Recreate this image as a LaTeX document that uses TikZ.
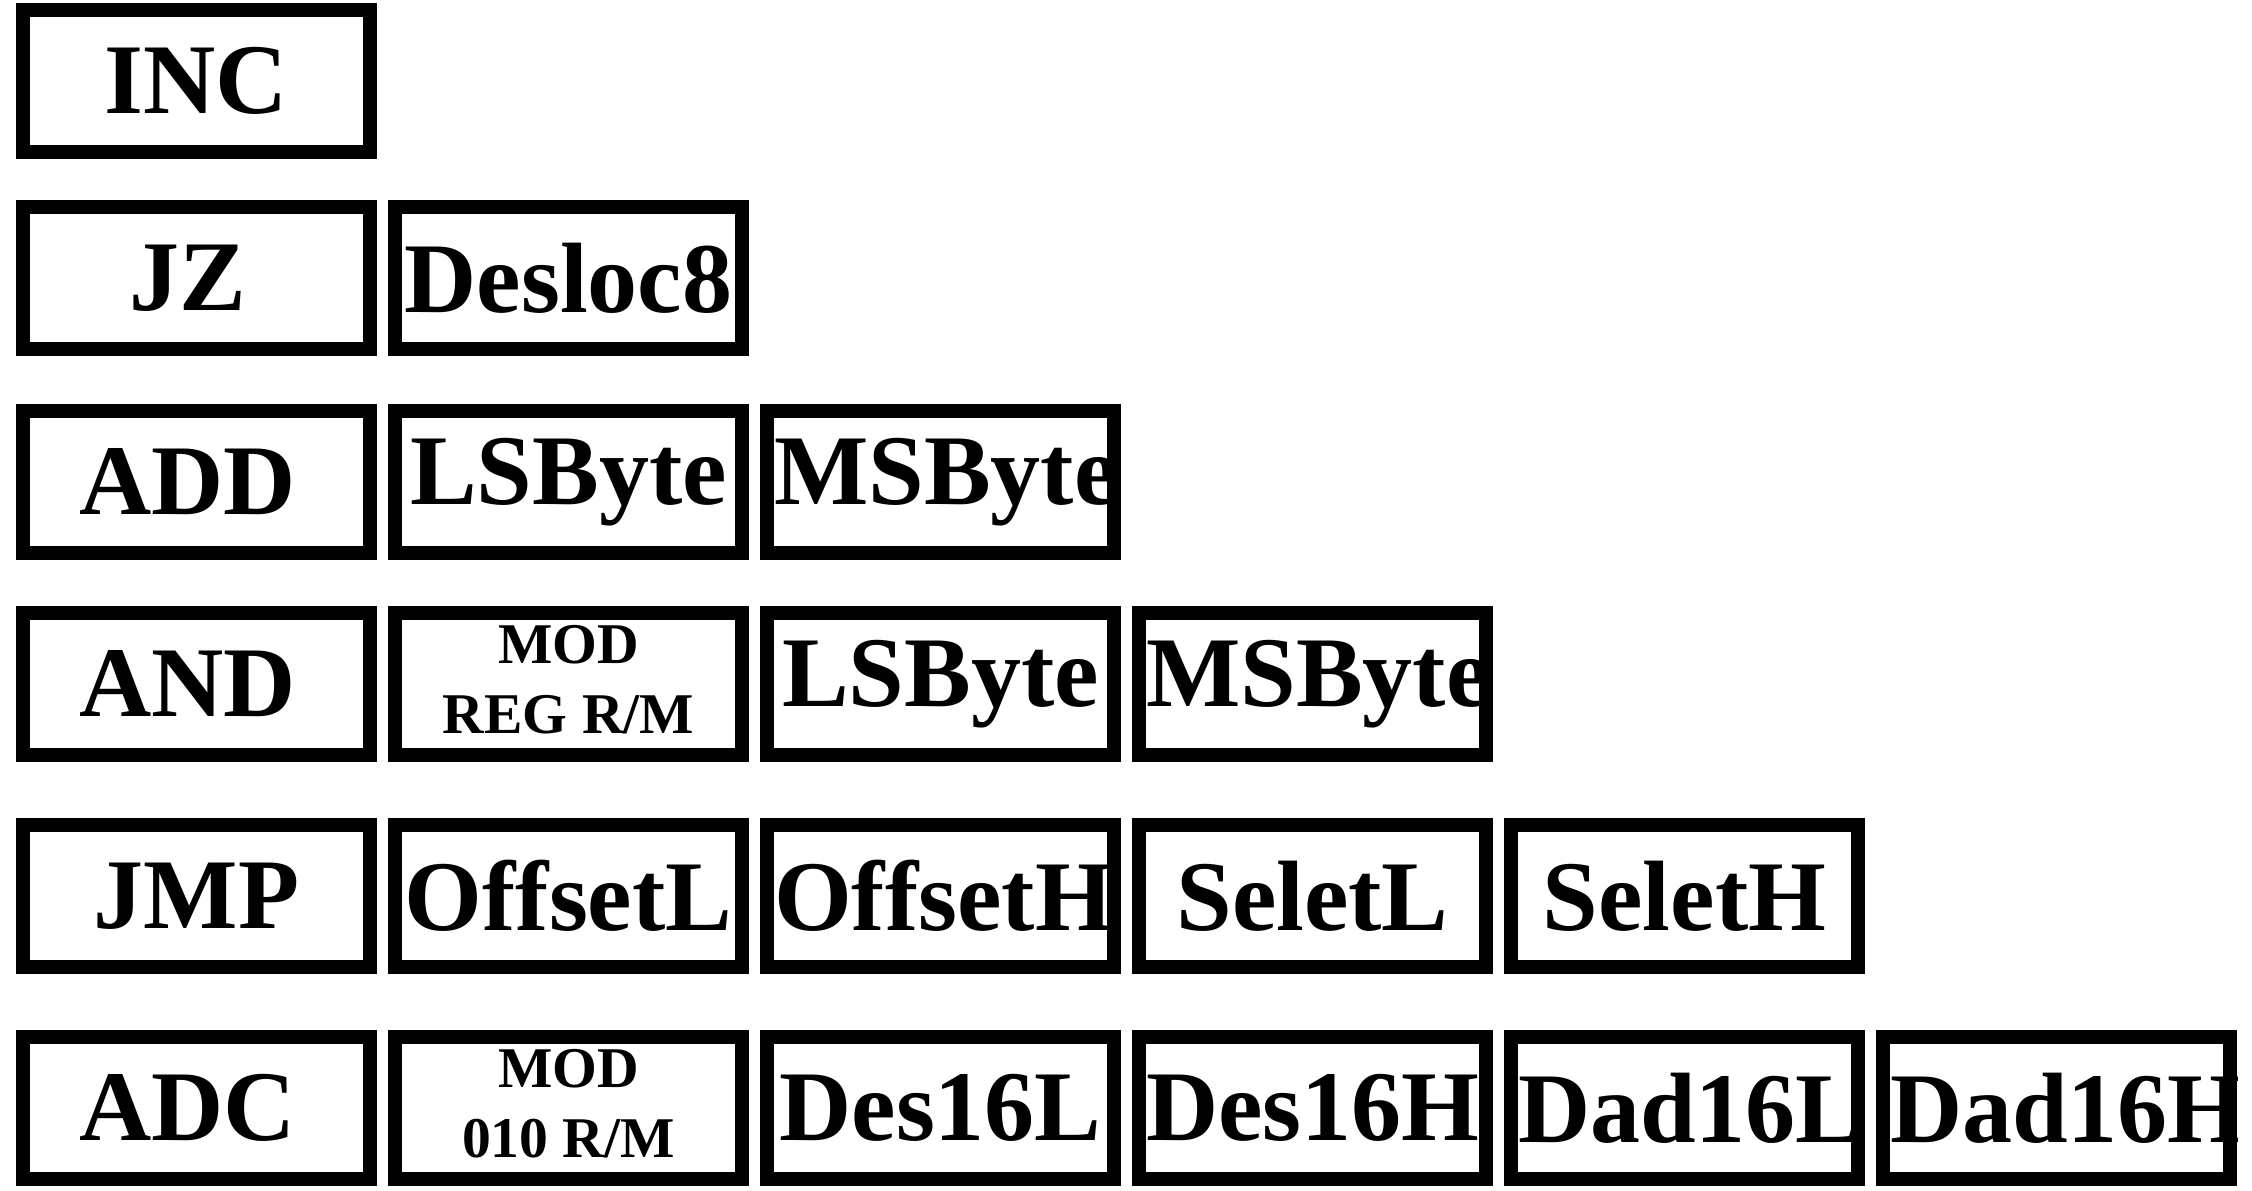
\documentclass[tikz,border=0pt]{standalone}
\usepackage{fontspec}
\newfontfamily\boxfont{Liberation Serif}
\newcommand\modlbl[1]{{\fontsize{28.8pt}{35pt}\selectfont\begin{tabular}{@{}c@{}}MOD\\#1\end{tabular}}}
\newcommand\trail{\hbox to .18em{}}% trailing blank after some opcodes
\tikzset{
  cell/.style={minimum width=173.5pt, minimum height=70.5pt, inner xsep=3.5pt, inner ysep=0pt,
    text width=166.5pt, align=center, font=\boxfont\bfseries\fontsize{50pt}{60pt}\selectfont},
  boxframe/.style={draw=black, line width=7pt}
}
\begin{document}
\begin{tikzpicture}[x=0.5pt,y=-0.5pt]
  \useasboundingbox (0,0) rectangle (2252,1190);
  \clip (0,0) rectangle (2237,1190);
  \def\w{372}% column pitch
  \def\xa{196.5}% centre of first column
  % one row per instruction
  \foreach \lbl [count=\i] in {INC}{
    \node[cell] (inc\i) at ({\xa+\w*(\i-1)},81) {\lbl};
    \draw[boxframe] (inc\i.north west) rectangle (inc\i.south east);
  }
  \foreach \lbl [count=\i] in {JZ\trail,Desloc8}{
    \node[cell] (jz\i) at ({\xa+\w*(\i-1)},278) {\lbl};
    \draw[boxframe] (jz\i.north west) rectangle (jz\i.south east);
  }
  \foreach \lbl [count=\i] in {ADD\trail,LSByte,MSByte}{
    \node[cell] (add\i) at ({\xa+\w*(\i-1)},482) {\lbl};
    \draw[boxframe] (add\i.north west) rectangle (add\i.south east);
  }
  \foreach \lbl [count=\i] in {AND\trail,\modlbl{REG\hspace{.25em}R/M},LSByte,MSByte}{
    \node[cell] (and\i) at ({\xa+\w*(\i-1)},684) {\lbl};
    \draw[boxframe] (and\i.north west) rectangle (and\i.south east);
  }
  \foreach \lbl [count=\i] in {JMP,OffsetL,OffsetH,SeletL,SeletH}{
    \node[cell] (jmp\i) at ({\xa+\w*(\i-1)},896) {\lbl};
    \draw[boxframe] (jmp\i.north west) rectangle (jmp\i.south east);
  }
  \foreach \lbl [count=\i] in {ADC\trail,\modlbl{010\hspace{.25em}R/M},Des16L,Des16H,Dad16L,Dad16H}{
    \node[cell] (adc\i) at ({\xa+\w*(\i-1)},1108) {\lbl};
    \draw[boxframe] (adc\i.north west) rectangle (adc\i.south east);
  }
\end{tikzpicture}
\end{document}
